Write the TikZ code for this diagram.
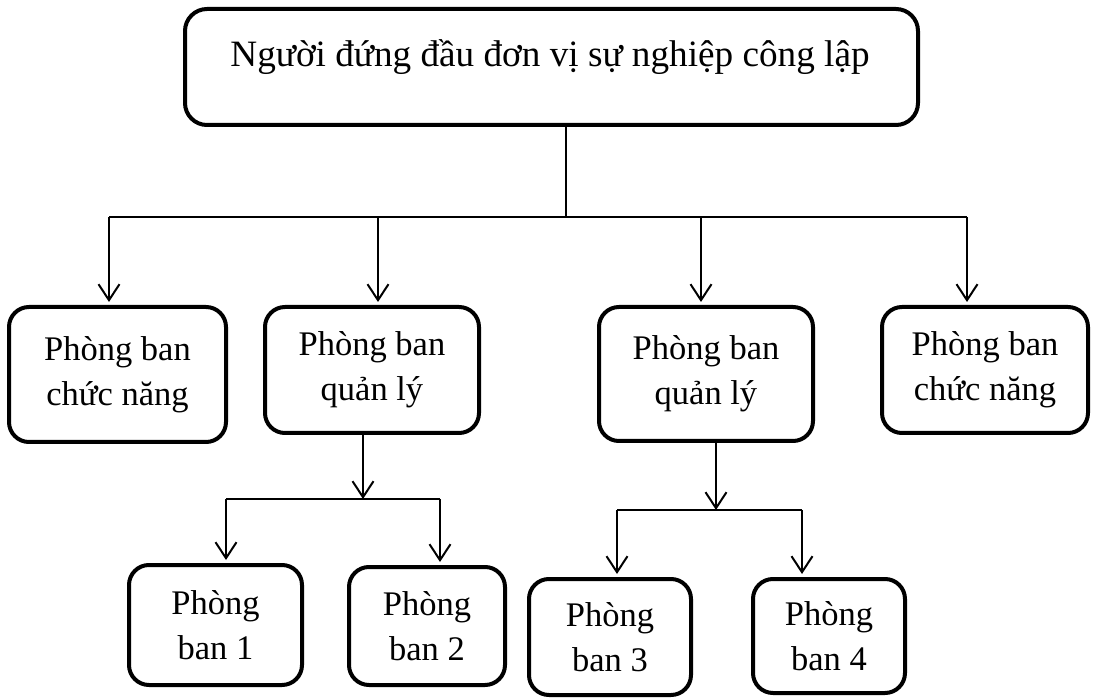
\documentclass[tikz,border=0pt]{standalone}
\usepackage{fontspec}
\setmainfont{Liberation Serif}
\usetikzlibrary{arrows.meta}
\begin{document}
\begin{tikzpicture}[x=1pt,y=-1pt,
  unit/.style={draw, line width=4pt, rounded corners=20pt, align=center,
    font=\fontsize{34.5}{45}\selectfont, inner sep=0pt},
  link/.style={line width=2pt},
  arr/.style={link, -{Straight Barb[length=16pt,width=21pt]}, shorten >=3pt}
]
\useasboundingbox (0,0) rectangle (1093,700);

% top unit
\node[unit, rounded corners=22pt, minimum width=733pt, minimum height=116pt] (head) at (551.5,67) {};
\node[font=\fontsize{37.2}{44}\selectfont, inner sep=0pt] (headtext) at (550,57) {Người đứng đầu đơn vị sự nghiệp công lập};

% second level
\node[unit, minimum width=217pt, minimum height=135pt] (b1) at (117.5,374.5) {Phòng ban\\chức năng};
\node[unit, minimum width=214pt, minimum height=126pt] (b2) at (372,370) {Phòng ban\\quản lý};
\node[unit, minimum width=214pt, minimum height=134pt] (b3) at (706,374) {Phòng ban\\quản lý};
\node[unit, minimum width=206pt, minimum height=126pt] (b4) at (985,370) {Phòng ban\\chức năng};

% third level
\node[unit, minimum width=173pt, minimum height=120pt] (p1) at (215.5,625) {Phòng\\ban 1};
\node[unit, minimum width=156pt, minimum height=118pt] (p2) at (427,626) {Phòng\\ban 2};
\node[unit, minimum width=162pt, minimum height=116pt] (p3) at (610,637) {Phòng\\ban 3};
\node[unit, minimum width=152pt, minimum height=114pt] (p4) at (829,636) {Phòng\\ban 4};

% bus under the head unit
\coordinate (hj) at (566,217);
\coordinate (hL) at (109,217);
\coordinate (hR) at (967,217);
\coordinate (h2) at (378,217);
\coordinate (h3) at (701,217);
\draw[link] (hj |- head.south) -- (hj);
\draw[link] (hL) -- (hR);
\draw[arr] (hL) -- (hL |- b1.north);
\draw[arr] (h2) -- (h2 |- b2.north);
\draw[arr] (h3) -- (h3 |- b3.north);
\draw[arr] (hR) -- (hR |- b4.north);

% bus under the left management unit
\coordinate (m1) at (363,499);
\coordinate (m1L) at (226,499);
\coordinate (m1R) at (440,499);
\draw[arr, shorten >=0pt] (m1 |- b2.south) -- (m1);
\draw[link] (m1L) -- (m1R);
\draw[arr] (m1L) -- (m1L |- p1.north);
\draw[arr] (m1R) -- (m1R |- p2.north);

% bus under the right management unit
\coordinate (m2) at (716,510);
\coordinate (m2L) at (617,510);
\coordinate (m2R) at (802,510);
\draw[arr, shorten >=0pt] (m2 |- b3.south) -- (m2);
\draw[link] (m2L) -- (m2R);
\draw[arr] (m2L) -- (m2L |- p3.north);
\draw[arr] (m2R) -- (m2R |- p4.north);
\end{tikzpicture}
\end{document}
